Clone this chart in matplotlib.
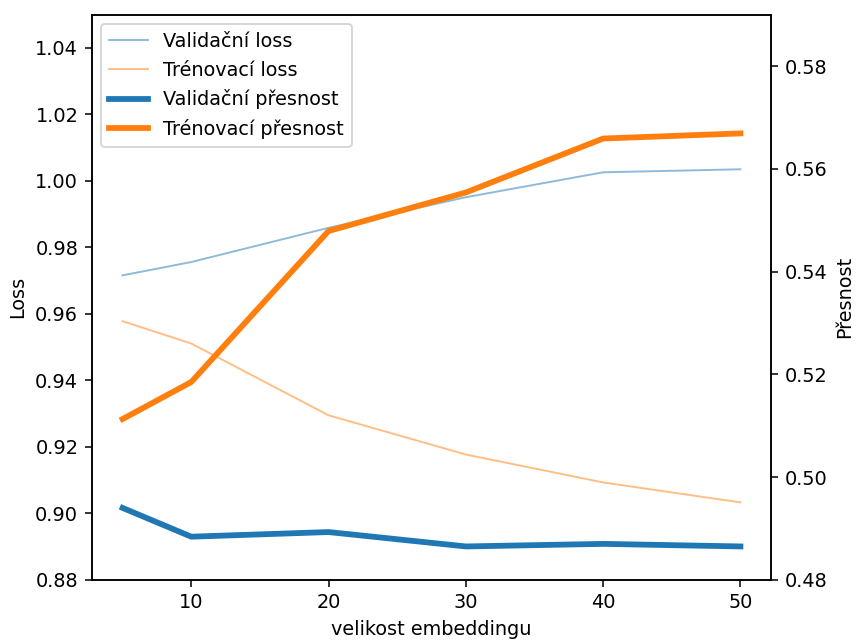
import matplotlib
matplotlib.use("Agg")
import matplotlib.pyplot as plt

# Embedding sizes and per-size metrics
embedding_sizes = [5, 10, 20, 30, 40, 50]
val_loss = [0.9716, 0.9756, 0.9859, 0.9951, 1.0026, 1.0035]
train_loss = [0.9578, 0.9511, 0.9295, 0.9177, 0.9093, 0.9033]
val_acc = [0.4940, 0.4884, 0.4893, 0.4865, 0.4870, 0.4865]
train_acc = [0.5113, 0.5185, 0.5479, 0.5554, 0.5659, 0.5669]

DPI = 139
fig, ax1 = plt.subplots(figsize=(857 / DPI, 640 / DPI), dpi=DPI)
ax2 = ax1.twinx()

l1, = ax1.plot(embedding_sizes, val_loss, color="C0", alpha=0.5, lw=1, label="Validační loss")
l2, = ax1.plot(embedding_sizes, train_loss, color="C1", alpha=0.5, lw=1, label="Trénovací loss")
l3, = ax2.plot(embedding_sizes, val_acc, color="C0", lw=3, label="Validační přesnost")
l4, = ax2.plot(embedding_sizes, train_acc, color="C1", lw=3, label="Trénovací přesnost")

ax1.set_ylim(0.88, 1.05)
ax2.set_ylim(0.48, 0.59)
ax1.set_xlabel("velikost embeddingu")
ax1.set_ylabel("Loss")
ax2.set_ylabel("Přesnost")

ax1.legend(handles=[l1, l2, l3, l4], loc="upper left")

fig.subplots_adjust(left=0.107, right=0.9, bottom=0.094, top=0.977)
fig.savefig("out.png", dpi=DPI)
